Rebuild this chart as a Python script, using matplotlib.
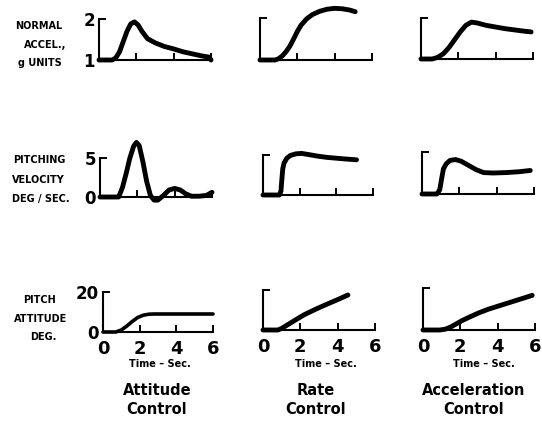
import matplotlib
matplotlib.use("Agg")
import matplotlib.pyplot as plt

# time / value pairs
acc_att_t = [0, 0.7, 0.9, 1.1, 1.3, 1.5, 1.7, 1.9, 2.1, 2.3, 2.6, 3.0, 3.5, 4.0, 4.5, 5.0, 5.5, 5.9, 6.0]
acc_att_v = [1, 1, 1.05, 1.2, 1.45, 1.7, 1.88, 1.93, 1.85, 1.7, 1.52, 1.42, 1.33, 1.27, 1.2, 1.15, 1.1, 1.07, 1.0]
acc_rate_t = [0, 0.8, 1.0, 1.2, 1.4, 1.6, 1.8, 2.0, 2.2, 2.5, 2.8, 3.2, 3.6, 4.0, 4.4, 4.8, 5.1]
acc_rate_v = [1, 1, 1.03, 1.1, 1.2, 1.33, 1.5, 1.68, 1.83, 1.98, 2.08, 2.16, 2.21, 2.23, 2.22, 2.19, 2.15]
acc_acc_t = [0, 0.6, 0.9, 1.2, 1.5, 1.8, 2.1, 2.4, 2.7, 3.0, 3.5, 4.0, 4.5, 5.0, 5.5, 5.9]
acc_acc_v = [1, 1, 1.04, 1.13, 1.28, 1.47, 1.66, 1.82, 1.9, 1.88, 1.82, 1.78, 1.74, 1.71, 1.68, 1.66]

vel_att_t = [0, 1.0, 1.2, 1.4, 1.6, 1.8, 1.95, 2.1, 2.3, 2.5, 2.7, 2.9, 3.1, 3.4, 3.7, 4.0, 4.3, 4.6, 4.9, 5.3, 5.7, 6.0]
vel_att_v = [0, 0, 1.2, 3.0, 5.0, 6.5, 7.0, 6.6, 4.5, 2.0, 0.2, -0.4, -0.4, 0.2, 0.9, 1.1, 0.9, 0.4, 0.1, 0.1, 0.2, 0.6]
vel_rate_t = [0, 0.9, 0.98, 1.03, 1.08, 1.15, 1.3, 1.5, 1.8, 2.1, 2.5, 3.0, 3.5, 4.0, 4.5, 5.1]
vel_rate_v = [0, 0, 0.5, 2.0, 3.3, 4.0, 4.6, 4.95, 5.15, 5.2, 5.05, 4.85, 4.7, 4.6, 4.5, 4.4]
vel_acc_t = [0, 0.8, 0.95, 1.05, 1.15, 1.3, 1.5, 1.8, 2.1, 2.5, 2.9, 3.3, 3.8, 4.5, 5.2, 5.8]
vel_acc_v = [0, 0, 0.5, 1.8, 3.0, 3.6, 4.0, 4.1, 3.9, 3.4, 2.9, 2.55, 2.5, 2.55, 2.65, 2.8]

att_att_t = [0, 0.7, 1.0, 1.3, 1.6, 1.9, 2.2, 2.5, 2.8, 3.2, 4.0, 5.0, 6.0]
att_att_v = [0, 0, 1.0, 3.0, 5.3, 7.3, 8.4, 8.9, 9.0, 9.0, 9.0, 9.0, 9.0]
att_rate_t = [0, 0.8, 1.0, 1.3, 1.7, 2.2, 2.8, 3.4, 4.0, 4.55]
att_rate_v = [0, 0, 0.8, 2.5, 4.8, 7.6, 10.3, 12.8, 15.2, 17.5]
att_acc_t = [0, 0.9, 1.2, 1.5, 1.8, 2.1, 2.5, 3.0, 3.5, 4.0, 4.5, 5.0, 5.5, 5.85]
att_acc_v = [0, 0, 0.4, 1.5, 3.0, 4.5, 6.2, 8.2, 9.9, 11.3, 12.7, 14.1, 15.5, 16.5]

row_lims = [(1, 2), (0, 5), (0, 20)]
row_names = [["NORMAL", "ACCEL.,", "g UNITS"], ["PITCHING", "VELOCITY", "DEG / SEC."], ["PITCH", "ATTITUDE", "DEG."]]
col_titles = ["Attitude\nControl", "Rate\nControl", "Acceleration\nControl"]
xticks = [0, 2, 4, 6]

curves = [
    [(acc_att_t, acc_att_v), (acc_rate_t, acc_rate_v), (acc_acc_t, acc_acc_v)],
    [(vel_att_t, vel_att_v), (vel_rate_t, vel_rate_v), (vel_acc_t, vel_acc_v)],
    [(att_att_t, att_att_v), (att_rate_t, att_rate_v), (att_acc_t, att_acc_v)],
]

W, H = 542, 425
# axes boxes in pixels: left, right, top, bottom
boxes = [
    [(99, 211, 19, 60), (260, 372, 18, 60), (421, 533, 18, 59)],
    [(100, 212, 158, 197), (263, 373, 155, 195), (422, 534, 152, 194)],
    [(103, 213, 292, 332), (263, 375, 290, 330), (423, 535, 288, 330)],
]

fig = plt.figure(figsize=(W / 100, H / 100), dpi=100)
fig.patch.set_facecolor("white")


def fx(x, y):
    return x / W, 1 - y / H


for r in range(3):
    for c in range(3):
        l, rt, tp, bt = boxes[r][c]
        ax = fig.add_axes([l / W, 1 - bt / H, (rt - l) / W, (bt - tp) / H])
        ax.set_facecolor("none")
        t, v = curves[r][c]
        lw = 2.6 if (r == 2 and c == 0) else 3.5
        ax.plot(t, v, color="black", lw=lw, clip_on=False,
                solid_capstyle="round", solid_joinstyle="round")
        lo, hi = row_lims[r]
        ax.set_xlim(0, 6)
        ax.set_ylim(lo, hi)
        for s in ["top", "right"]:
            ax.spines[s].set_visible(False)
        for s in ["left", "bottom"]:
            ax.spines[s].set_linewidth(1.5)
        ax.set_xticks(xticks)
        ax.set_yticks([lo, hi])
        ax.tick_params(direction="in", length=5, width=1.4, color="black")
        ax.tick_params(axis="x", pad=6)
        ax.tick_params(axis="y", pad=3)
        if r == 2:
            ax.set_xticklabels([str(x) for x in xticks], fontsize=13, fontweight="bold")
        else:
            ax.set_xticklabels([])
        if c == 0:
            ax.set_yticklabels([str(lo), str(hi)], fontsize=12, fontweight="bold")
        else:
            ax.set_yticklabels([])

# row labels
label_pos = [[(62, 26), (66, 45), (62, 63)],
             [(39, 160), (38, 180), (41, 199)],
             [(39, 300), (41, 319), (43, 337)]]
for r in range(3):
    for i, txt in enumerate(row_names[r]):
        x, y = label_pos[r][i]
        ha = "right" if r == 0 else "center"
        fig.text(*fx(x, y), txt, fontsize=7, fontweight="bold", ha=ha, va="center")

# time labels and column titles
time_x = [160, 326, 484]
title_x = [157, 316, 474]
for c in range(3):
    fig.text(*fx(time_x[c], 364), "Time \u2013 Sec.", fontsize=7, fontweight="bold",
             ha="center", va="center")
    fig.text(*fx(title_x[c], 400), col_titles[c], fontsize=10.5, fontweight="bold",
             ha="center", va="center", linespacing=1.3)

fig.savefig("out.png", dpi=100)
